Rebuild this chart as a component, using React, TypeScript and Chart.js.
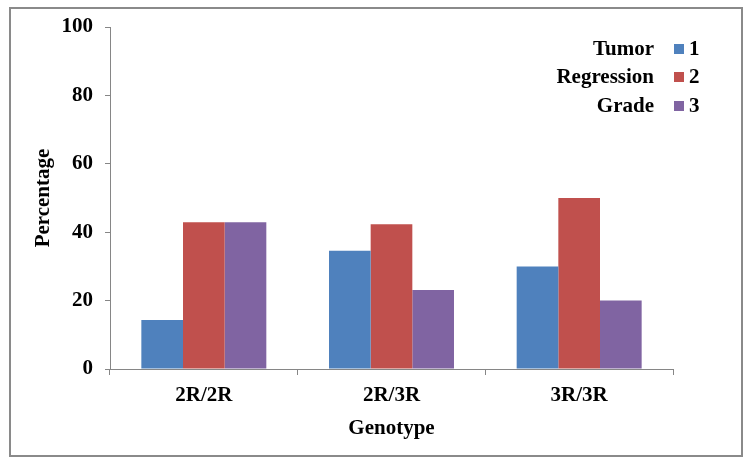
import React, { useEffect, useRef } from "react";
import { Chart, registerables } from "chart.js";

Chart.register(...registerables);

const categories = ["2R/2R", "2R/3R", "3R/3R"];
const gradeLabels = ["1", "2", "3"];
const grade1 = [14.3, 34.6, 30];
const grade2 = [42.9, 42.3, 50];
const grade3 = [42.9, 23.1, 20];
const colors = ["#4F81BD", "#C0504D", "#8064A2"];
const legendTitle = ["Tumor", "Regression", "Grade"];
const yTicks = [0, 20, 40, 60, 80, 100];

const FONT = "'Liberation Serif', 'Times New Roman', serif";

const legendPlugin = {
  id: "customLegend",
  afterDraw(chart: any) {
    const ctx = chart.ctx;
    ctx.save();
    ctx.font = `bold 21px ${FONT}`;
    ctx.textBaseline = "middle";
    const rows = [50, 78, 107];
    chart.data.datasets.forEach((ds: any, i: number) => {
      const y = rows[i];
      ctx.fillStyle = "#000";
      ctx.textAlign = "right";
      ctx.fillText(legendTitle[i], 654, y);
      ctx.fillStyle = ds.backgroundColor;
      ctx.fillRect(674, y - 6, 10, 10);
      ctx.fillStyle = "#000";
      ctx.textAlign = "left";
      ctx.fillText(ds.label, 689, y);
    });
    ctx.restore();
  },
};

export default function App() {
  const ref = useRef<HTMLCanvasElement | null>(null);
  useEffect(() => {
    if (!ref.current) return;
    const chart = new Chart(ref.current, {
      type: "bar",
      data: {
        labels: categories,
        datasets: [grade1, grade2, grade3].map((d, i) => ({
          label: gradeLabels[i],
          data: d,
          backgroundColor: colors[i],
          borderWidth: 0,
          categoryPercentage: 0.666,
          barPercentage: 1,
        })),
      },
      options: {
        animation: false,
        responsive: false,
        events: [],
        layout: { padding: { left: 0, right: 79, top: 27, bottom: 25 } },
        plugins: {
          legend: { display: false },
          tooltip: { enabled: false },
        },
        scales: {
          x: {
            grid: {
              offset: true,
              drawOnChartArea: false,
              drawTicks: true,
              tickLength: 6,
              color: "#868686",
            },
            border: { color: "#868686", width: 1 },
            ticks: {
              color: "#000",
              padding: 8,
              font: { family: FONT, size: 21, weight: "bold" },
            },
            title: {
              display: true,
              text: "Genotype",
              color: "#000",
              padding: { top: 0, bottom: 0 },
              font: { family: FONT, size: 21, weight: "bold" },
            },
            afterFit(scale: any) {
              scale.height = 72;
            },
          },
          y: {
            min: 0,
            max: 100,
            afterBuildTicks(scale: any) {
              scale.ticks = yTicks.map((v) => ({ value: v }));
            },
            grid: {
              drawOnChartArea: false,
              drawTicks: true,
              tickLength: 5,
              color: "#868686",
            },
            border: { color: "#868686", width: 1 },
            ticks: {
              color: "#000",
              padding: 12,
              font: { family: FONT, size: 21, weight: "bold" },
            },
            title: {
              display: true,
              text: "Percentage",
              color: "#000",
              padding: { top: 31, bottom: 0 },
              font: { family: FONT, size: 21, weight: "bold" },
            },
            afterFit(scale: any) {
              scale.width = 110;
            },
          },
        },
      },
      plugins: [legendPlugin],
    });
    return () => chart.destroy();
  }, []);

  return (
    <div style={{ position: "absolute", left: 0, top: 0, width: 752, height: 466, background: "#fff" }}>
      <canvas ref={ref} width={752} height={466} style={{ display: "block", width: 752, height: 466 }} />
      <div
        style={{
          position: "absolute",
          left: 9,
          top: 7,
          width: 734,
          height: 450,
          boxSizing: "border-box",
          border: "2px solid #8a8a8a",
          pointerEvents: "none",
        }}
      />
    </div>
  );
}
